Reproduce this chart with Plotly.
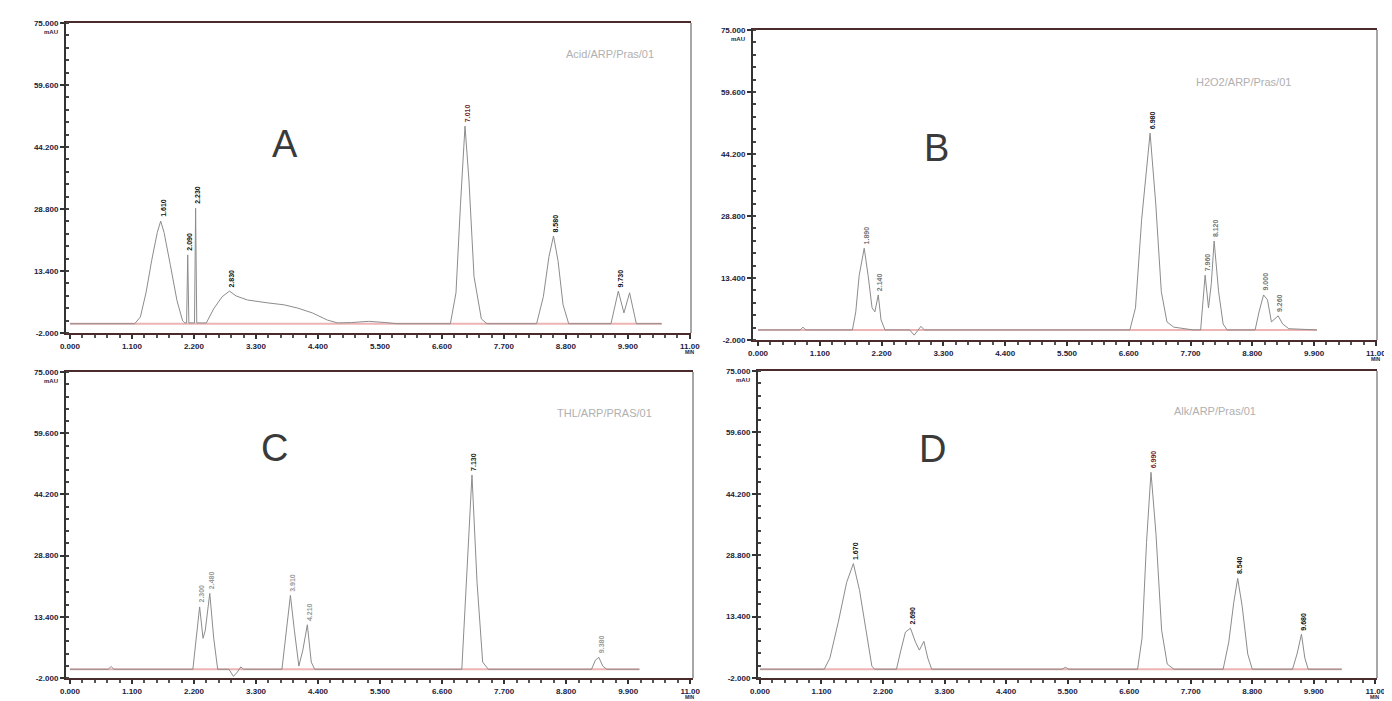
import plotly.graph_objects as go

# ---------------- data (retention time in min, signal in mAU) ----------------
x_tick_vals = [0, 1.1, 2.2, 3.3, 4.4, 5.5, 6.6, 7.7, 8.8, 9.9, 11.0]
x_tick_labels = ["0.000", "1.100", "2.200", "3.300", "4.400", "5.500", "6.600",
                 "7.700", "8.800", "9.900", "11.00"]
y_tick_vals = [-2, 13.4, 28.8, 44.2, 59.6, 75]
y_tick_labels = ["-2.000", "13.400", "28.800", "44.200", "59.600", "75.000"]

A_time = [0, 1.15, 1.25, 1.35, 1.45, 1.55, 1.61, 1.67, 1.78, 1.90, 2.00, 2.04,
          2.07, 2.09, 2.11, 2.21, 2.23, 2.25,
          2.42, 2.55, 2.70, 2.83, 2.95, 3.15, 3.50, 3.80, 4.04, 4.30, 4.57, 4.75, 5.00, 5.30, 5.60, 5.80,
          6.75, 6.85, 6.93, 7.01, 7.08, 7.17, 7.30, 7.40,
          8.28, 8.40, 8.50, 8.58, 8.66, 8.75, 8.85,
          9.60, 9.73, 9.83, 9.93, 10.05, 10.50]
A_signal = [0.3, 0.3, 2, 8, 16, 23, 25.8, 23, 15, 6, 1, 0.5,
            0.5, 17.4, 0.5, 0.5, 29.0, 0.5,
            0.5, 4, 7, 8.4, 7.2, 6.2, 5.5, 5.0, 4.2, 3.0, 1.2, 0.5, 0.6, 0.9, 0.6, 0.3,
            0.3, 8, 30, 49.4, 36, 12, 1.5, 0.3,
            0.3, 7, 17, 22.1, 16, 5, 0.3,
            0.3, 8.4, 3, 8.0, 0.3, 0.3]
A_peaks = [1.61, 2.09, 2.23, 2.83, 7.01, 8.58, 9.73]

B_time = [0, 0.75, 0.80, 0.85, 1.68, 1.74, 1.80, 1.89, 1.96, 2.03, 2.08, 2.14, 2.19, 2.26,
          2.70, 2.78, 2.84, 2.90, 2.96,
          6.62, 6.72, 6.83, 6.98, 7.08, 7.18, 7.28, 7.40, 7.60, 7.75,
          7.88, 7.92, 7.96, 8.02, 8.07, 8.12, 8.20, 8.28, 8.35,
          8.85, 8.92, 9.00, 9.07, 9.14, 9.20, 9.26, 9.34, 9.45, 9.95]
B_signal = [0.5, 0.5, 1.2, 0.5, 0.5, 5, 14, 20.8, 14, 6, 5, 9.2, 3, 0.5,
            0.5, -0.8, 0.3, 1.4, 0.5,
            0.5, 6, 28, 49.4, 32, 10, 2.5, 1.2, 0.8, 0.5,
            0.5, 8, 14.1, 6, 12, 22.6, 10, 2, 0.5,
            0.5, 5, 9.2, 8, 2.5, 3.2, 4.0, 2, 0.8, 0.5]
B_peaks = [1.89, 2.14, 6.98, 7.96, 8.12, 9.00, 9.26]

C_time = [0, 0.68, 0.73, 0.78, 2.18, 2.24, 2.30, 2.36, 2.40, 2.48, 2.55, 2.62,
          2.82, 2.90, 2.97, 3.03, 3.08,
          3.76, 3.84, 3.91, 3.98, 4.06, 4.13, 4.21, 4.28, 4.34,
          6.95, 7.02, 7.13, 7.22, 7.32, 7.42,
          9.25, 9.32, 9.38, 9.45, 9.52, 10.10]
C_signal = [0.2, 0.2, 0.9, 0.2, 0.2, 8, 15.9, 8, 10, 19.3, 8, 0.2,
            0.2, -1.6, -0.5, 0.8, 0.2,
            0.2, 10, 18.8, 10, 1, 5, 11.4, 2, 0.2,
            0.2, 20, 49.1, 22, 2, 0.2,
            0.2, 2.5, 3.2, 1, 0.2, 0.2]
C_peaks = [2.30, 2.48, 3.91, 4.21, 7.13, 9.38]

D_time = [0, 1.15, 1.25, 1.40, 1.55, 1.67, 1.78, 1.90, 2.00, 2.05,
          2.44, 2.52, 2.60, 2.69, 2.78, 2.85, 2.93, 3.00, 3.07,
          5.40, 5.46, 5.52,
          6.75, 6.83, 6.91, 6.99, 7.08, 7.18, 7.28, 7.40,
          8.28, 8.38, 8.47, 8.54, 8.62, 8.72, 8.80,
          9.52, 9.60, 9.68, 9.74, 9.80, 10.40]
D_signal = [0.2, 0.2, 3, 12, 22, 26.7, 20, 9, 1, 0.2,
            0.2, 5, 9.5, 10.5, 7, 5, 7.2, 3, 0.2,
            0.2, 0.7, 0.2,
            0.2, 8, 32, 49.6, 34, 10, 1.5, 0.2,
            0.2, 7, 17, 23.0, 16, 4, 0.2,
            0.2, 4, 9.0, 3, 0.2, 0.2]
D_peaks = [1.67, 2.69, 6.99, 8.54, 9.68]

panel_letters = ["A", "B", "C", "D"]
sample_names = ["Acid/ARP/Pras/01", "H2O2/ARP/Pras/01", "THL/ARP/PRAS/01", "Alk/ARP/Pras/01"]

# ---------------- layout helpers ----------------
W, H = 1392, 701
def px(x): return x / W
def py(y): return 1 - y / H

panels = [
    dict(t=A_time, s=A_signal, pk=A_peaks, base=0.3,
         xdom=[px(58), px(683)], xr=[-0.07, 11.02], ydom=[py(325), py(15)],
         lab=(262, 113), name=(602, 38), lab_col="#111111", main_col="#7a1f2e"),
    dict(t=B_time, s=B_signal, pk=B_peaks, base=0.5,
         xdom=[px(745), px(1369)], xr=[-0.09, 11.02], ydom=[py(332), py(22)],
         lab=(928, 117), name=(1285, 66), lab_col="#777777", main_col="#222222"),
    dict(t=C_time, s=C_signal, pk=C_peaks, base=0.2,
         xdom=[px(58), px(685)], xr=[-0.07, 11.05], ydom=[py(670), py(364)],
         lab=(251, 440), name=(596, 405), lab_col="#9a9a9a", main_col="#222222"),
    dict(t=D_time, s=D_signal, pk=D_peaks, base=0.2,
         xdom=[px(750), px(1369)], xr=[-0.035, 11.03], ydom=[py(670), py(363)],
         lab=(924, 441), name=(1250, 403), lab_col="#111111", main_col="#7a1f2e"),
]

fig = go.Figure()
annotations = []
shapes = []
tickfont = dict(family="Liberation Sans", size=8, color="#1c1c40", weight="bold")

for i, p in enumerate(panels):
    n = "" if i == 0 else str(i + 1)
    xa, ya = "x" + n, "y" + n
    # integration baseline (pink)
    fig.add_trace(go.Scatter(x=[p["t"][0], p["t"][-1]], y=[p["base"], p["base"]],
                             xaxis=xa, yaxis=ya, mode="lines",
                             line=dict(color="#eeb4b4", width=2), hoverinfo="skip",
                             showlegend=False))
    # chromatogram
    fig.add_trace(go.Scatter(x=p["t"], y=p["s"], xaxis=xa, yaxis=ya, mode="lines",
                             line=dict(color="#8c8c8c", width=1), showlegend=False,
                             name=sample_names[i]))
    fig.layout["xaxis" + n] = dict(
        domain=p["xdom"], range=p["xr"], anchor=ya, tickmode="array",
        tickvals=x_tick_vals, ticktext=x_tick_labels,
        ticks="outside", ticklen=4, tickwidth=1.5, tickcolor="#333",
        minor=dict(ticks="outside", tickmode="linear", tick0=0, dtick=0.22, ticklen=3,
                   tickcolor="#555", tickwidth=1.5),
        showline=True, linecolor="#4a2a2a", linewidth=2, mirror=True,
        showgrid=False, zeroline=False, tickfont=tickfont, automargin=False, fixedrange=True)
    fig.layout["yaxis" + n] = dict(
        domain=p["ydom"], range=[-2, 75.02], anchor=xa, tickmode="array",
        tickvals=y_tick_vals, ticktext=y_tick_labels,
        ticks="outside", ticklen=4, tickwidth=1.5, tickcolor="#333",
        minor=dict(ticks="inside", tickmode="linear", tick0=-2, dtick=3.08, ticklen=3,
                   tickcolor="#444", tickwidth=1.5),
        showline=True, linecolor="#333333", linewidth=2, mirror=False,
        showgrid=False, zeroline=False, tickfont=tickfont, automargin=False, fixedrange=True)
    # right frame border (thin grey)
    shapes.append(dict(type="line", xref=xa + " domain", yref=ya + " domain",
                       x0=1, x1=1, y0=0, y1=1, line=dict(color="#8a8a8a", width=1.5)))
    # peak retention-time labels
    for k, rt in enumerate(p["pk"]):
        h = p["s"][p["t"].index(rt)]
        is_main = h == max(p["s"])
        annotations.append(dict(x=rt, y=h, xref=xa, yref=ya, text=f"{rt:.3f}",
                                textangle=-90, showarrow=False, xanchor="center",
                                yanchor="bottom", yshift=2, xshift=2,
                                font=dict(family="Liberation Sans", size=7,
                                          color=p["main_col"] if is_main else p["lab_col"],
                                          weight="bold")))
    # panel letter
    annotations.append(dict(x=px(p["lab"][0]), y=py(p["lab"][1]), xref="paper", yref="paper",
                            text=panel_letters[i], showarrow=False,
                            font=dict(family="Liberation Sans", size=38, color="#3a3a3a")))
    # sample name
    annotations.append(dict(x=px(p["name"][0]), y=py(p["name"][1]), xref="paper", yref="paper",
                            text=sample_names[i], showarrow=False,
                            font=dict(family="Liberation Sans", size=11, color="#b0b0b0")))
    # units
    annotations.append(dict(x=0, y=1, xref=xa + " domain", yref=ya + " domain", text="mAU",
                            showarrow=False, xanchor="right", yanchor="top", xshift=-6, yshift=-4,
                            font=dict(family="Liberation Sans", size=6, color="#1c1c40",
                                      weight="bold")))
    annotations.append(dict(x=11, y=0, xref=xa, yref=ya + " domain", text="MIN",
                            showarrow=False, xanchor="center", yanchor="top", yshift=-14,
                            font=dict(family="Liberation Sans", size=5, color="#1c1c40",
                                      weight="bold")))

fig.update_layout(width=W, height=H, margin=dict(l=0, r=0, t=0, b=0),
                  paper_bgcolor="white", plot_bgcolor="white",
                  annotations=annotations, shapes=shapes, showlegend=False)
fig.write_html("out.html")
